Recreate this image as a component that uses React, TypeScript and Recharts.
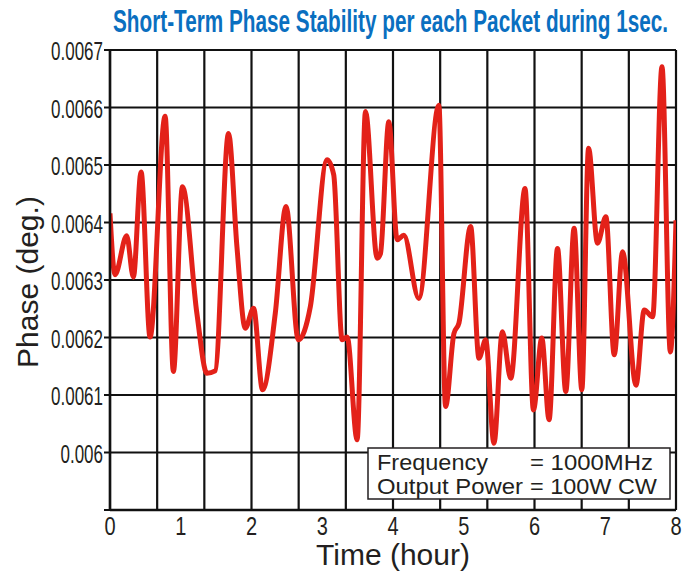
import React from "react";
import { LineChart, Line, XAxis, YAxis, CartesianGrid } from "recharts";

const hours = [
  0, 0.071, 0.236, 0.33, 0.439, 0.566, 0.779, 0.896, 1.024, 1.228, 1.369, 1.487,
  1.675, 1.794, 1.912, 2.029, 2.156, 2.336, 2.488, 2.662, 2.832, 3.068, 3.162,
  3.281, 3.352, 3.493, 3.611, 3.776, 3.823, 3.941, 4.059, 4.153, 4.365, 4.648,
  4.743, 4.861, 4.932, 5.097, 5.215, 5.31, 5.427, 5.546, 5.664, 5.866, 5.985,
  6.103, 6.206, 6.325, 6.442, 6.56, 6.669, 6.764, 6.89, 7.009, 7.127, 7.245,
  7.434, 7.551, 7.67, 7.802, 7.92, 8.0,
];
const phase = [
  0.006416, 0.006309, 0.006377, 0.006305, 0.006488, 0.006201, 0.006585, 0.006141,
  0.006462, 0.006242, 0.006138, 0.006142, 0.006555, 0.006358, 0.006216, 0.006251,
  0.006109, 0.006242, 0.006428, 0.006196, 0.006254, 0.006509, 0.006483, 0.006196,
  0.006201, 0.006022, 0.006593, 0.006338, 0.006346, 0.006575, 0.00637, 0.006378,
  0.006268, 0.006604, 0.00608, 0.006207, 0.006225, 0.006393, 0.006164, 0.006196,
  0.006016, 0.00621, 0.006129, 0.006459, 0.006074, 0.006199, 0.006057, 0.006355,
  0.006106, 0.00639, 0.006109, 0.006529, 0.006364, 0.00641, 0.00617, 0.006349,
  0.006117, 0.006248, 0.006236, 0.006671, 0.006175, 0.006404,
];
const xTicks = [0, 1, 2, 3, 4, 5, 6, 7, 8];
const yTicks = [0.0059, 0.006, 0.0061, 0.0062, 0.0063, 0.0064, 0.0065, 0.0066, 0.0067];
const gridHours = [0, 0.6667, 1.3333, 2, 2.6667, 3.3333, 4, 4.6667, 5.3333, 6, 6.6667, 7.3333, 8];
const titleText = "Short-Term Phase Stability per each Packet during 1sec.";
const xTitle = "Time (hour)";
const yTitle = "Phase (deg.)";
const legendLabels = ["Frequency", "Output Power"];
const legendValues = ["= 1000MHz", "= 100W CW"];

const data = hours.map((h, i) => ({ h, v: phase[i] }));

const SANS = "'Liberation Sans', Arial, Helvetica, sans-serif";
const INK = "#231f20";

function YTick(props: any) {
  const { x, y, payload } = props;
  if (payload.value === 0.0059) return <g />;
  return (
    <g transform={`translate(${x},${y})`}>
      <text transform="scale(0.68,1)" textAnchor="end" dy="0.4em" fontSize={25} fill={INK} fontFamily={SANS}>
        {String(payload.value)}
      </text>
    </g>
  );
}

function XTick(props: any) {
  const { x, y, payload } = props;
  return (
    <g transform={`translate(${x},${y})`}>
      <text transform="scale(0.8,1)" textAnchor="middle" dy="0.71em" fontSize={25} fill={INK} fontFamily={SANS}>
        {String(payload.value)}
      </text>
    </g>
  );
}

export default function App() {
  const vGen = (p: any) => {
    const xAxis = p && p.xAxis;
    if (xAxis && typeof xAxis.scale === "function") {
      return gridHours.map((g) => xAxis.scale(g));
    }
    const off = p.offset;
    return gridHours.map((g) => off.left + (g / 8) * off.width);
  };
  return (
    <div style={{ position: "absolute", left: 0, top: 0, width: 694, height: 574, background: "#fff" }}>
      <LineChart width={694} height={574} data={data} margin={{ top: 50, right: 18, bottom: 0, left: 0 }}>
        <CartesianGrid stroke="#111" strokeWidth={2.2} verticalCoordinatesGenerator={vGen} />
        <XAxis
          dataKey="h"
          type="number"
          domain={[0, 8]}
          ticks={xTicks}
          height={64}
          tickSize={0}
          tickMargin={7}
          tick={<XTick />}
          axisLine={{ stroke: "#111", strokeWidth: 2.5 }}
          allowDataOverflow
        />
        <YAxis
          type="number"
          domain={[0.0059, 0.0067]}
          ticks={yTicks}
          width={110}
          tickSize={6}
          tickMargin={1}
          tick={<YTick />}
          tickLine={{ stroke: "#111", strokeWidth: 2 }}
          axisLine={{ stroke: "#111", strokeWidth: 2.5 }}
          allowDataOverflow
        />
        <Line
          type="monotone"
          dataKey="v"
          stroke="#e32119"
          strokeWidth={5}
          dot={false}
          isAnimationActive={false}
        />
      </LineChart>
      <svg width={694} height={574} style={{ position: "absolute", left: 0, top: 0, pointerEvents: "none" }}>
        <g transform="translate(113,32) scale(0.66,1)">
          <text x={0} y={0} fontSize={32} fontWeight="bold" fill="#0a6fc0" fontFamily={SANS} textLength={841} lengthAdjust="spacingAndGlyphs">
            {titleText}
          </text>
        </g>
        <text transform="translate(38,282) rotate(-90)" textAnchor="middle" fontSize={30} fill={INK} fontFamily={SANS}>
          {yTitle}
        </text>
        <text x={393} y={565} textAnchor="middle" fontSize={30} fill={INK} fontFamily={SANS}>
          {xTitle}
        </text>
        <rect x={368} y={448} width={302} height={51} fill="#fff" stroke={INK} strokeWidth={1.5} />
        <text x={377} y={470} fontSize={22} fill={INK} fontFamily={SANS} textLength={111} lengthAdjust="spacingAndGlyphs">
          {legendLabels[0]}
        </text>
        <text x={377} y={494} fontSize={22} fill={INK} fontFamily={SANS} textLength={146} lengthAdjust="spacingAndGlyphs">
          {legendLabels[1]}
        </text>
        <text x={530} y={470} fontSize={22} fill={INK} fontFamily={SANS} textLength={123} lengthAdjust="spacingAndGlyphs">
          {legendValues[0]}
        </text>
        <text x={530} y={494} fontSize={22} fill={INK} fontFamily={SANS} textLength={127} lengthAdjust="spacingAndGlyphs">
          {legendValues[1]}
        </text>
      </svg>
    </div>
  );
}
